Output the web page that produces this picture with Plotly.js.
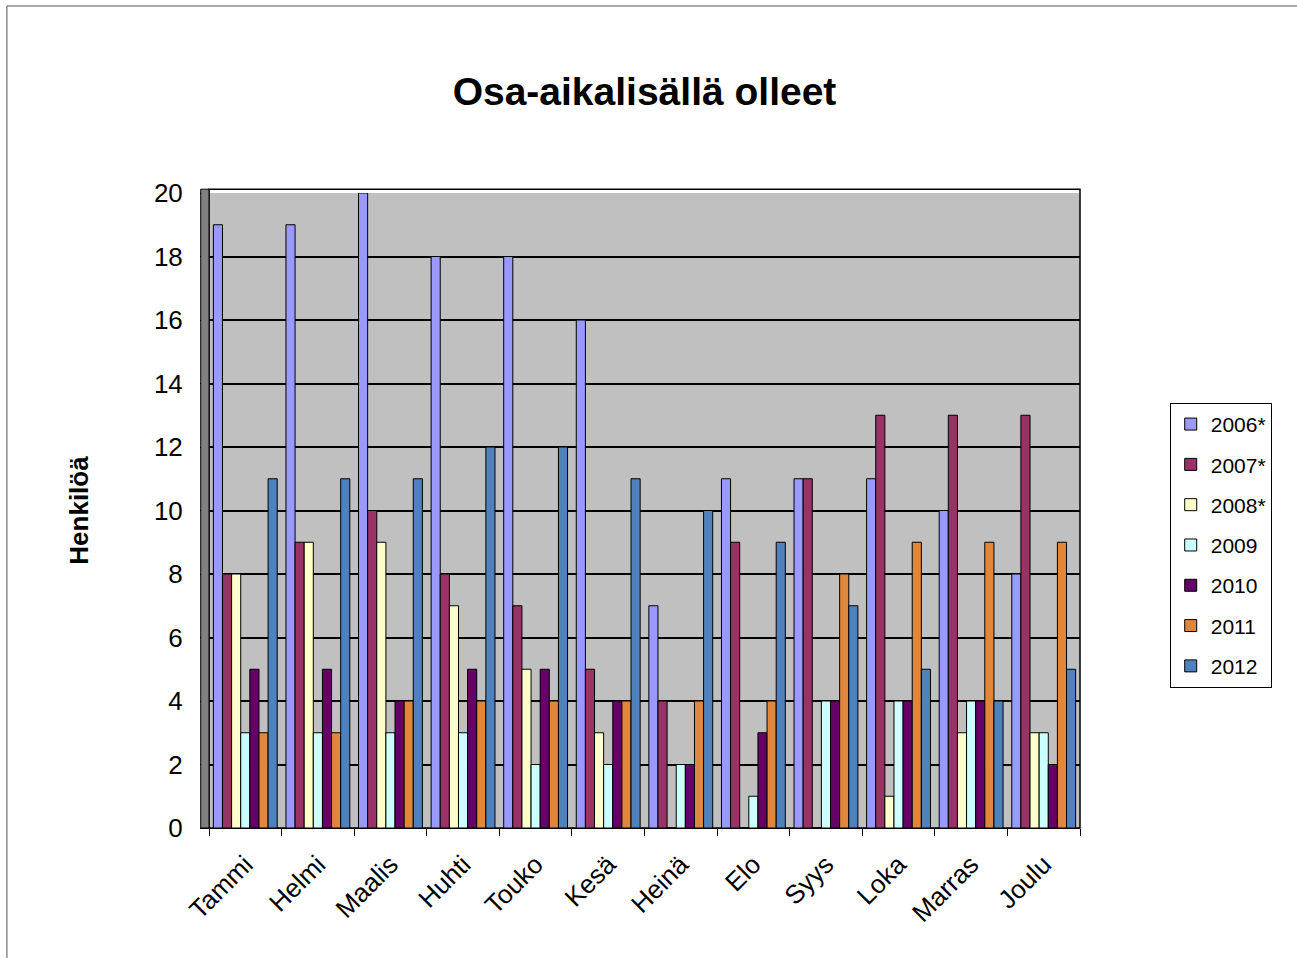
<!DOCTYPE html>
<html>
<head>
<meta charset="utf-8">
<script src="https://cdn.plot.ly/plotly-3.0.1.min.js"></script>
<style>
html,body{margin:0;padding:0;background:#fff;}
#chart{width:1297px;height:958px;}
</style>
</head>
<body>
<div id="chart"></div>
<script>
const months = ["Tammi","Helmi","Maalis","Huhti","Touko","Kesä","Heinä","Elo","Syys","Loka","Marras","Joulu"];
const seriesNames = ["2006*","2007*","2008*","2009","2010","2011","2012"];
const v2006 = [19,19,20,18,18,16,7,11,11,11,10,8];
const v2007 = [8,9,10,8,7,5,4,9,11,13,13,13];
const v2008 = [8,9,9,7,5,3,0,0,0,1,3,3];
const v2009 = [3,3,3,3,2,2,2,1,4,4,4,3];
const v2010 = [5,5,4,5,5,4,2,3,4,4,4,2];
const v2011 = [3,3,4,4,4,4,4,4,8,9,9,9];
const v2012 = [11,11,11,12,12,11,10,9,7,5,4,5];
const seriesValues = [v2006,v2007,v2008,v2009,v2010,v2011,v2012];
const colors = ["#9999FF","#993366","#FFFFCC","#CCFFFF","#660066","#E0873C","#4F81BD"];
const yTicks = [0,2,4,6,8,10,12,14,16,18,20];

const font = "Liberation Sans, Arial, sans-serif";

const traces = seriesNames.map((name,i)=>({
  type:"bar",
  name:name,
  x:months,
  y:seriesValues[i],
  legendgroup:"g"+i,
  marker:{color:colors[i],line:{color:"#000",width:1}},
  hoverinfo:"x+y+name"
}));

const layout = {
  width:1297,height:958,
  paper_bgcolor:"#fff",
  plot_bgcolor:"#C0C0C0",
  margin:{l:209,r:217,t:193,b:130,pad:0},
  title:{text:"<b>Osa-aikalisällä olleet</b>",font:{family:font,size:39,color:"#000"},x:0.5,xref:"paper",y:0.905,yref:"container",yanchor:"middle"},
  barmode:"group",
  bargap:0.12,
  bargroupgap:0,
  showlegend:true,
  legend:{
    x:1.103,xanchor:"left",y:0.445,yanchor:"middle",
    font:{family:font,size:21,color:"#000"},
    bordercolor:"#000",borderwidth:1,bgcolor:"#fff",
    traceorder:"grouped",tracegroupgap:10,
    itemwidth:30
  },
  xaxis:{
    type:"category",
    tickangle:-45,
    tickfont:{family:font,size:26,color:"#000"},
    ticks:"outside",tickson:"boundaries",ticklen:7,tickcolor:"#000",
    ticklabelstandoff:10,
    showline:true,linecolor:"#000",linewidth:1,
    showgrid:false,zeroline:false,fixedrange:true
  },
  yaxis:{
    range:[0,20],
    tickvals:yTicks,
    ticktext:yTicks.map(String),
    tickfont:{family:font,size:26,color:"#000"},
    ticks:"outside",ticklen:8,tickcolor:"#000",
    ticklabelstandoff:12,
    showline:true,linecolor:"#000",linewidth:1,
    showgrid:true,gridcolor:"#000",gridwidth:2,
    zeroline:false,
    title:{text:"<b>Henkilöä</b>",font:{family:font,size:26,color:"#000"},standoff:57},
    fixedrange:true
  },
  shapes:[
    {type:"rect",xref:"paper",yref:"paper",x0:0,x1:1,y0:0,y1:1.006,fillcolor:"rgba(0,0,0,0)",line:{color:"#000",width:1.5},layer:"below"},
    {type:"rect",xref:"paper",yref:"paper",x0:-0.0095,x1:0,y0:0,y1:1.006,fillcolor:"#808080",line:{color:"#000",width:1},layer:"above"},
    {type:"line",xref:"paper",yref:"paper",x0:-0.232,x1:1.3,y0:1.2945,y1:1.2945,line:{color:"#555",width:1}},
    {type:"line",xref:"paper",yref:"paper",x0:-0.232,x1:-0.232,y0:-0.3,y1:1.2945,line:{color:"#555",width:1}}
  ]
};

Plotly.newPlot("chart",traces,layout,{displayModeBar:false,staticPlot:true});
</script>
</body>
</html>
